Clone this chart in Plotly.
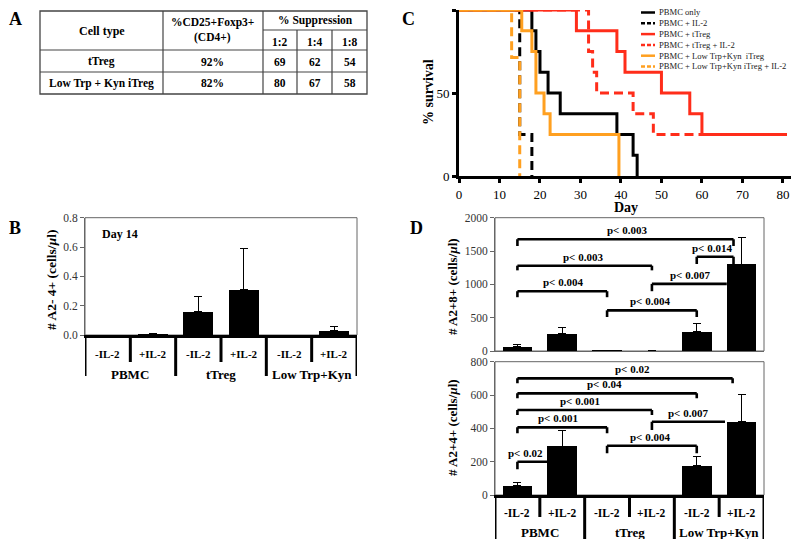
import plotly.graph_objects as go

W, H = 800, 539
OFF = 8  # the page body adds an 8px margin around the figure


def px(x):
    return (x - OFF) / W


def py(y):
    return 1 - (y - OFF) / H


SERIF = "Liberation Serif, Times New Roman, Times, serif"

# ---------------- data ----------------
# Panel A (table)
cell_types = ["tTreg", "Low Trp + Kyn iTreg"]
foxp3_pct = ["92%", "82%"]
ratios = ["1:2", "1:4", "1:8"]
suppression = [[69, 62, 54], [80, 67, 58]]

# Panels B / D categories
conditions = ["-IL-2", "+IL-2", "-IL-2", "+IL-2", "-IL-2", "+IL-2"]
groups = ["PBMC", "tTreg", "Low Trp+Kyn"]

# Panel B: # A2- 4+ (cells/ul), day 14
b_vals = [0.0, 0.005, 0.16, 0.31, 0.0, 0.03]
b_err = [0.0, 0.005, 0.10, 0.28, 0.0, 0.03]

# Panel C: survival
surv_names = ["PBMC only", "PBMC + IL-2", "PBMC + tTreg", "PBMC + tTreg + IL-2",
              "PBMC + Low Trp+Kyn  iTreg", "PBMC + Low Trp+Kyn iTreg + IL-2"]
surv_days = [
    [0, 18, 19, 20, 22, 25, 39, 43, 44],
    [0, 15, 18],
    [0, 29, 39, 41, 50, 57, 60, 81],
    [0, 32, 33, 34, 43, 48, 81],
    [0, 15.5, 18, 19, 21, 22.5, 39.5],
    [0, 13, 15],
]
surv_pct = [
    [100, 87.5, 75, 62.5, 50, 37.5, 25, 12.5, 0],
    [100, 25, 0],
    [100, 87.5, 75, 62.5, 50, 37.5, 25, 25],
    [100, 75, 62.5, 50, 37.5, 25, 25],
    [100, 87.5, 75, 50, 37.5, 25, 0],
    [100, 71.4, 0],
]
c_xticks = [0, 10, 20, 30, 40, 50, 60, 70, 80]
c_yticks = [0, 50, 100]

# Panel D top: # A2+8+ (cells/ul)
d8_vals = [65, 260, 5, 3, 295, 1305]
d8_err = [30, 100, 0, 0, 115, 400]
# comparisons: (from, to, height, drop of legs, label, label position, right leg?)
d8_pvals = [
    (0, 4.82, 1677, 100, "p< 0.003", 2.44, True),
    (0, 3, 1280, 70, "p< 0.003", 1.46, True),
    (0, 2, 897, 90, "p< 0.004", 1.02, True),
    (2, 4, 610, 100, "p< 0.004", 2.96, True),
    (3, 4.67, 1007, 110, "p< 0.007", 3.85, False),
    (4, 4.82, 1414, 109, "p< 0.014", 4.33, True),
]

# Panel D bottom: # A2+4+ (cells/ul)
d4_vals = [55, 294, 0, 0, 176, 440]
d4_err = [20, 92, 0, 0, 54, 164]
d4_pvals = [
    (0, 4.8, 700, 30, "p< 0.02", 2.56, True),
    (0, 4, 610, 30, "p< 0.04", 1.95, True),
    (0, 3, 510, 30, "p< 0.001", 1.4, True),
    (0, 2, 406, 36, "p< 0.001", 0.91, True),
    (0, 0.667, 200, 46, "p< 0.02", 0.19, False),
    (2, 4, 296, 46, "p< 0.004", 2.96, True),
    (3, 4.63, 440, 50, "p< 0.007", 3.81, False),
]

# ---------------- styles ----------------
RED = "#ff2d1a"
ORANGE = "#ffa020"
surv_colors = ["black", "black", RED, RED, ORANGE, ORANGE]
surv_dash = ["solid", "9px,5px", "solid", "9px,5px", "solid", "9px,5px"]
AXGRAY = "#666666"
TICKGRAY = "#333333"

fig = go.Figure()
shapes = []
annotations = []


def text(x, y, s, size=11, bold=False, color="black", angle=0, xref="paper", yref="paper",
         xanchor="center", yanchor="middle", yshift=0):
    annotations.append(dict(
        x=x, y=y, xref=xref, yref=yref, text=("<b>%s</b>" % s) if bold else s,
        showarrow=False, textangle=angle, xanchor=xanchor, yanchor=yanchor, yshift=yshift,
        font=dict(family=SERIF, size=size, color=color)))


def pline(x0, y0, x1, y1, width=1, color="black", xref="paper", yref="paper", dash="solid"):
    shapes.append(dict(type="line", x0=x0, y0=y0, x1=x1, y1=y1, xref=xref, yref=yref,
                       line=dict(width=width, color=color, dash=dash)))


# ---------------- Panel labels ----------------
text(px(15), py(19), "A", size=18, bold=True)
text(px(15), py(228), "B", size=18, bold=True)
text(px(408), py(19), "C", size=18, bold=True)
text(px(416), py(228), "D", size=18, bold=True)

# ---------------- Panel A table ----------------
tx = [40, 163, 263, 297, 332, 367]
ty = [11, 30, 50, 72, 94]
TL = "#444444"
shapes.append(dict(type="rect", x0=px(tx[0]), x1=px(tx[-1]), y0=py(ty[0]), y1=py(ty[-1]),
                   xref="paper", yref="paper", line=dict(color=TL, width=1.3)))
for yy in [ty[2], ty[3]]:
    pline(px(tx[0]), py(yy), px(tx[-1]), py(yy), 1.2, TL)
pline(px(tx[2]), py(ty[1]), px(tx[-1]), py(ty[1]), 1.2, TL)
for xx in [tx[1], tx[2]]:
    pline(px(xx), py(ty[0]), px(xx), py(ty[-1]), 1.2, TL)
for xx in [tx[3], tx[4]]:
    pline(px(xx), py(ty[1]), px(xx), py(ty[-1]), 1.2, TL)

text(px((tx[0] + tx[1]) / 2), py(31), "Cell type", 12, True)
text(px((tx[1] + tx[2]) / 2), py(22.5), "%CD25+Foxp3+", 11.5, True)
text(px((tx[1] + tx[2]) / 2), py(37.5), "(CD4+)", 11.5, True)
text(px((tx[2] + tx[5]) / 2), py(21), "% Suppression", 11.5, True)
for k, r in enumerate(ratios):
    text(px((tx[2 + k] + tx[3 + k]) / 2), py(41.5), r, 11.5, True)
row_y = [61.5, 83.3]
for i, ct in enumerate(cell_types):
    text(px((tx[0] + tx[1]) / 2), py(row_y[i]), ct, 11.5, True)
    text(px((tx[1] + tx[2]) / 2), py(row_y[i]), foxp3_pct[i], 11.5, True)
    for k, v in enumerate(suppression[i]):
        text(px((tx[2 + k] + tx[3 + k]) / 2), py(row_y[i]), str(v), 11.5, True)

# ---------------- Panel B ----------------
xpos = list(range(len(conditions)))
fig.add_trace(go.Bar(x=xpos, y=b_vals, width=0.66, marker=dict(color="black", line=dict(width=0)),
                     error_y=dict(type="data", array=b_err, arrayminus=[0] * len(b_err),
                                  symmetric=False, color="black", thickness=1, width=4),
                     xaxis="x", yaxis="y", showlegend=False, hoverinfo="skip"))

# ---------------- Panel D ----------------
fig.add_trace(go.Bar(x=xpos, y=d8_vals, width=0.66, marker=dict(color="black", line=dict(width=0)),
                     error_y=dict(type="data", array=d8_err, arrayminus=[0] * len(d8_err),
                                  symmetric=False, color="black", thickness=1, width=4),
                     xaxis="x3", yaxis="y3", showlegend=False, hoverinfo="skip"))
fig.add_trace(go.Bar(x=xpos, y=d4_vals, width=0.66, marker=dict(color="black", line=dict(width=0)),
                     error_y=dict(type="data", array=d4_err, arrayminus=[0] * len(d4_err),
                                  symmetric=False, color="black", thickness=1, width=4),
                     xaxis="x4", yaxis="y4", showlegend=False, hoverinfo="skip"))


def brackets(pvals, xr, yr):
    for (a, b, h, drop, lab, lx, right) in pvals:
        pline(a, h - drop, a, h, 2.6, "black", xr, yr)
        pline(a, h, b, h, 2.6, "black", xr, yr)
        if right:
            pline(b, h - drop, b, h, 2.6, "black", xr, yr)
        text(lx, h, lab, 11, True, xref=xr, yref=yr, yanchor="bottom", yshift=1)


brackets(d8_pvals, "x3", "y3")
brackets(d4_pvals, "x4", "y4")

# ---------------- Panel C ----------------
for name, d, s, c, ds in zip(surv_names, surv_days, surv_pct, surv_colors, surv_dash):
    fig.add_trace(go.Scatter(x=d, y=s, mode="lines", line=dict(shape="hv", color=c, width=3, dash=ds),
                             name=name, xaxis="x2", yaxis="y2", showlegend=False,
                             cliponaxis=False, hoverinfo="skip"))

# manual legend (kept just below the top edge of the drawable area)
leg_y0, leg_dy = 12.5, 10.8
for i, (name, c, ds) in enumerate(zip(surv_names, surv_colors, surv_dash)):
    yy = leg_y0 + leg_dy * i
    pline(px(641), py(yy), px(655), py(yy), 2.5, c, dash="solid" if ds == "solid" else "4px,2px")
    text(px(657), py(yy), name, 8.6, False, "#222222", xanchor="left")


# ---------------- category labels and dividers (B and D bottom) ----------------
def cat_axis(xr, y_axis, y_sub, y_short, y_long, y_group, sub_size, grp_size):
    for k, c in enumerate(conditions):
        text(k, py(y_sub), c, sub_size, True, xref=xr)
    for g, name in enumerate(groups):
        text(2 * g + 0.5, py(y_group), name, grp_size, True, xref=xr)
    for k in range(len(conditions) + 1):
        xx = k - 0.5
        bottom = y_long if k % 2 == 0 else y_short
        pline(xx, py(y_axis), xx, py(bottom), 3, "black", xref=xr)


cat_axis("x", 335, 354, 362, 376, 374, 11, 13)
cat_axis("x4", 495, 513, 517, 539, 532, 11.5, 13)

# box outlines
for xr, yr in [("x", "y"), ("x3", "y3"), ("x4", "y4")]:
    shapes.append(dict(type="rect", xref=xr + " domain", yref=yr + " domain", x0=0, x1=1, y0=0, y1=1,
                       line=dict(color=AXGRAY, width=1), layer="below"))

text(px(120), py(234), "Day 14", 12, True)

# axis titles
text(px(51), py(280), "# A2- 4+ (cells/<i>µ</i>l)", 13.5, True, angle=-90)
text(px(452), py(287), "# A2+8+ (cells/<i>µ</i>l)", 13, True, angle=-90)
text(px(452), py(428), "# A2+4+ (cells/<i>µ</i>l)", 13, True, angle=-90)
text(px(428), py(92), "% survival", 14, True, angle=-90)
text(px(626), py(207), "Day", 14, True)

tickfont_gray = dict(family=SERIF, size=11.5, color=TICKGRAY)
tickfont_black = dict(family=SERIF, size=13, color="black")

common_cat_x = dict(range=[-0.5, 5.5], showgrid=False, zeroline=False, ticks="", showticklabels=False,
                    fixedrange=True, automargin=False)

fig.update_layout(
    width=W, height=H, margin=dict(l=0, r=0, t=0, b=0, pad=0, autoexpand=False),
    paper_bgcolor="white", plot_bgcolor="white", showlegend=False,
    bargap=0,
    font=dict(family=SERIF),
    # Panel B
    xaxis=dict(domain=[px(85), px(357)], anchor="y", showline=True, linecolor="black", linewidth=3,
               **common_cat_x),
    yaxis=dict(domain=[py(335), py(217.7)], anchor="x", range=[0, 0.8], tickvals=[0, 0.2, 0.4, 0.6, 0.8],
               tickformat=".1f", showline=True, linecolor=AXGRAY, linewidth=1, ticks="outside",
               ticklen=4, tickcolor=AXGRAY, showgrid=False, zeroline=False, tickfont=tickfont_gray,
               automargin=False),
    # Panel C
    xaxis2=dict(domain=[px(459), px(791)], anchor="y2", range=[0, 82], tickvals=c_xticks,
                showline=True, linecolor="black", linewidth=3, ticks="outside", ticklen=4, tickwidth=3,
                tickcolor="black", showgrid=False, zeroline=False, tickfont=tickfont_black,
                automargin=False),
    yaxis2=dict(domain=[py(176), py(10)], anchor="x2", range=[0, 100], tickvals=c_yticks,
                showline=True, linecolor="black", linewidth=3, ticks="outside", ticklen=4, tickwidth=3,
                tickcolor="black", showgrid=False, zeroline=False, tickfont=tickfont_black,
                automargin=False),
    # Panel D top
    xaxis3=dict(domain=[px(495), px(764)], anchor="y3", showline=True, linecolor=AXGRAY, linewidth=1,
                **common_cat_x),
    yaxis3=dict(domain=[py(351), py(217.7)], anchor="x3", range=[0, 2000],
                tickvals=[0, 500, 1000, 1500, 2000], showline=True, linecolor=AXGRAY, linewidth=1,
                ticks="outside", ticklen=4, tickcolor=AXGRAY, showgrid=False, zeroline=False,
                tickfont=tickfont_gray, automargin=False),
    # Panel D bottom
    xaxis4=dict(domain=[px(495), px(764)], anchor="y4", showline=True, linecolor="black", linewidth=3,
                **common_cat_x),
    yaxis4=dict(domain=[py(495), py(361.7)], anchor="x4", range=[0, 800],
                tickvals=[0, 200, 400, 600, 800], showline=True, linecolor=AXGRAY, linewidth=1,
                ticks="outside", ticklen=4, tickcolor=AXGRAY, showgrid=False, zeroline=False,
                tickfont=tickfont_gray, automargin=False),
    shapes=shapes,
    annotations=annotations,
)

fig.write_html("out.html")
